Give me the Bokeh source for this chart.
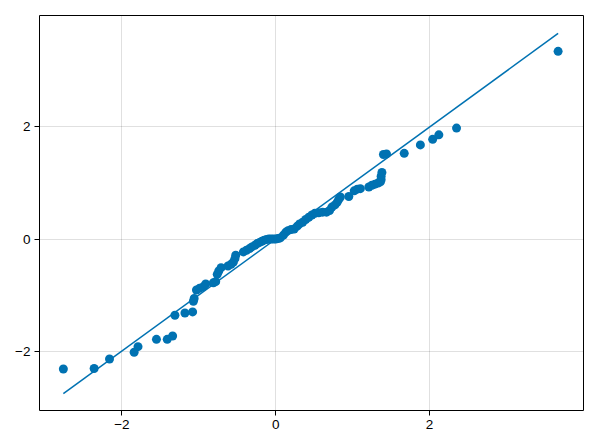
from bokeh.plotting import figure
from bokeh.embed import file_html
from bokeh.resources import INLINE
from bokeh.models import Range1d, FixedTicker

# Sorted sample quantiles (x) vs sorted sample quantiles (y)
qx = [-2.76, -2.36, -2.16, -1.84, -1.79, -1.55, -1.41, -1.34, -1.31, -1.18,
      -1.08, -1.07, -1.06, -1.03, -0.99, -0.94, -0.91, -0.81, -0.78, -0.76,
      -0.74, -0.71, -0.62, -0.58, -0.55, -0.53, -0.52, -0.42, -0.38, -0.34,
      -0.31, -0.27, -0.24, -0.21, -0.18, -0.15, -0.12, -0.09, -0.06, -0.03,
      0.00, 0.03, 0.06, 0.10, 0.13, 0.16, 0.20, 0.24, 0.28, 0.31,
      0.35, 0.39, 0.43, 0.47, 0.51, 0.56, 0.61, 0.66, 0.70, 0.73,
      0.77, 0.80, 0.82, 0.84, 0.95, 1.02, 1.06, 1.10, 1.21, 1.25,
      1.29, 1.33, 1.36, 1.37, 1.37, 1.38, 1.40, 1.44, 1.67, 1.88,
      2.04, 2.12, 2.35, 3.67]
qy = [-2.32, -2.31, -2.14, -2.02, -1.92, -1.79, -1.79, -1.73, -1.36, -1.32,
      -1.30, -1.11, -1.06, -0.91, -0.88, -0.85, -0.80, -0.78, -0.76, -0.63,
      -0.57, -0.51, -0.48, -0.45, -0.41, -0.35, -0.29, -0.23, -0.20, -0.17,
      -0.14, -0.11, -0.08, -0.06, -0.04, -0.02, -0.01, 0.00, 0.00, 0.00,
      0.00, 0.01, 0.02, 0.07, 0.12, 0.15, 0.17, 0.18, 0.23, 0.27,
      0.30, 0.35, 0.39, 0.43, 0.46, 0.47, 0.48, 0.48, 0.51, 0.57,
      0.61, 0.66, 0.71, 0.75, 0.76, 0.86, 0.89, 0.90, 0.93, 0.96,
      0.98, 1.00, 1.02, 1.06, 1.12, 1.19, 1.51, 1.52, 1.53, 1.68,
      1.78, 1.86, 1.98, 3.35]

x_ticks = [-2, 0, 2]
y_ticks = [-2, 0, 2]
tick_labels = {-2: "\u22122", 0: "0", 2: "2"}

# identity reference line spanning the x extrema
line_x = [min(qx), max(qx)]
line_y = [min(qx), max(qx)]

color = "#0072B2"

p = figure(frame_width=544, frame_height=395,
           x_range=Range1d(-3.07, 4.0), y_range=Range1d(-3.06, 3.99),
           output_backend="svg", toolbar_location=None,
           min_border_left=39, min_border_right=5,
           min_border_top=15, min_border_bottom=28)

p.line(line_x, line_y, line_color=color, line_width=1.5)
p.scatter(qx, qy, size=9, fill_color=color, line_color=None)

p.outline_line_color = "black"
p.outline_line_width = 1
p.background_fill_color = "white"

for ax, ticks in ((p.xaxis[0], x_ticks), (p.yaxis[0], y_ticks)):
    ax.ticker = FixedTicker(ticks=ticks)
    ax.major_label_overrides = tick_labels
    ax.axis_line_color = None
    ax.major_tick_out = 5
    ax.major_tick_in = 0
    ax.minor_tick_out = 0
    ax.minor_tick_in = 0
    ax.major_tick_line_color = "black"
    ax.major_label_text_font = "Liberation Sans"
    ax.major_label_text_font_size = "13.5px"
    ax.major_label_text_color = "black"
    ax.major_label_standoff = 4

p.xgrid.grid_line_color = "black"
p.xgrid.grid_line_alpha = 0.12
p.ygrid.grid_line_color = "black"
p.ygrid.grid_line_alpha = 0.12

open("out.html", "w").write(file_html(p, INLINE))
